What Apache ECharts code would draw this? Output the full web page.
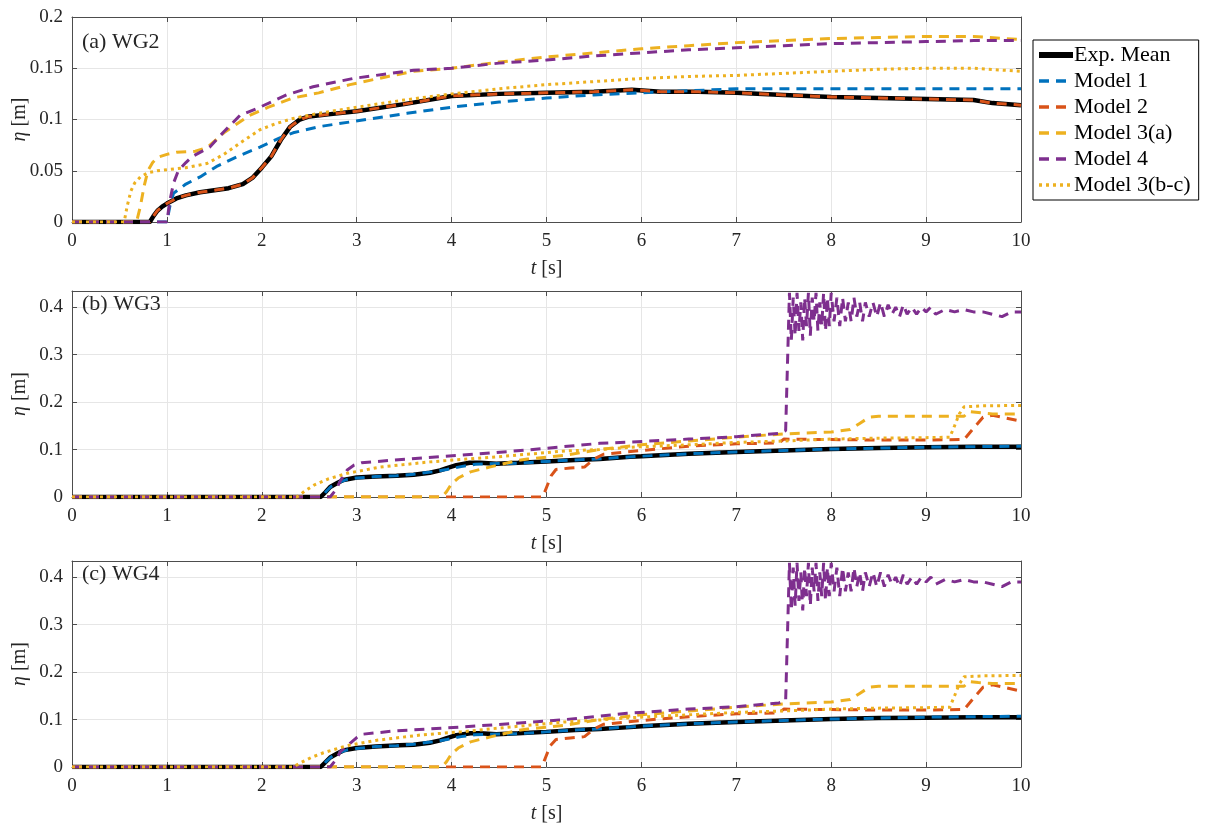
<!DOCTYPE html>
<html>
<head>
<meta charset="utf-8">
<script src="https://cdn.jsdelivr.net/npm/echarts@6/dist/echarts.min.js"></script>
<style>
  html, body { margin: 0; padding: 0; background: #fff; }
  #chart { width: 1205px; height: 825px; }
</style>
</head>
<body>
<div id="chart"></div>
<script>
// ---- data ----
const seriesNames = ['Exp. Mean', 'Model 1', 'Model 2', 'Model 3(a)', 'Model 4', 'Model 3(b-c)'];
const panelLabels = ['(a) WG2', '(b) WG3', '(c) WG4'];
const xTicks = [0, 1, 2, 3, 4, 5, 6, 7, 8, 9, 10];

// (a) WG2
const expA_t = [0, 0.82, 0.86, 0.9, 0.95, 1.0, 1.1, 1.2, 1.35, 1.5, 1.65, 1.8, 1.9, 2.0, 2.1, 2.2, 2.3, 2.4, 2.5, 2.7, 3.0, 3.5, 4.0, 4.5, 5.0, 5.5, 5.9, 6.2, 6.6, 7.0, 7.5, 8.0, 8.5, 9.0, 9.5, 9.7, 10];
const expA_v = [0, 0, 0.006, 0.011, 0.015, 0.018, 0.023, 0.026, 0.029, 0.031, 0.033, 0.037, 0.043, 0.053, 0.064, 0.080, 0.093, 0.100, 0.103, 0.105, 0.108, 0.115, 0.123, 0.125, 0.126, 0.127, 0.129, 0.127, 0.127, 0.126, 0.124, 0.122, 0.121, 0.120, 0.119, 0.116, 0.114];
const m1A_t = [0, 1.0, 1.03, 1.07, 1.2, 1.35, 1.52, 1.77, 1.98, 2.19, 2.33, 2.6, 2.96, 3.53, 4.0, 4.5, 5.0, 5.5, 6.0, 6.5, 7.0, 8.0, 9.0, 10];
const m1A_v = [0, 0, 0.015, 0.028, 0.037, 0.044, 0.054, 0.065, 0.073, 0.082, 0.087, 0.093, 0.098, 0.106, 0.112, 0.117, 0.121, 0.124, 0.126, 0.128, 0.130, 0.130, 0.130, 0.130];
const m2A_t = [0, 0.82, 0.86, 0.9, 0.95, 1.0, 1.1, 1.2, 1.35, 1.5, 1.65, 1.8, 1.9, 2.0, 2.1, 2.2, 2.3, 2.4, 2.5, 2.7, 3.0, 3.5, 4.0, 4.5, 5.0, 5.5, 5.9, 6.2, 6.6, 7.0, 7.5, 8.0, 8.5, 9.0, 9.5, 9.7, 10];
const m2A_v = [0, 0, 0.006, 0.011, 0.015, 0.018, 0.023, 0.026, 0.029, 0.031, 0.033, 0.037, 0.043, 0.053, 0.064, 0.080, 0.093, 0.100, 0.103, 0.105, 0.108, 0.115, 0.123, 0.125, 0.126, 0.127, 0.129, 0.127, 0.127, 0.126, 0.124, 0.122, 0.121, 0.120, 0.119, 0.116, 0.114];
const m3aA_t = [0, 0.68, 0.72, 0.76, 0.8, 0.85, 0.9, 1.0, 1.1, 1.3, 1.43, 1.6, 1.87, 2.07, 2.33, 2.6, 2.93, 3.33, 3.6, 4.0, 4.5, 5.0, 5.5, 6.0, 6.5, 7.0, 7.5, 8.0, 8.5, 9.0, 9.5, 10];
const m3aA_v = [0, 0, 0.015, 0.035, 0.05, 0.058, 0.063, 0.066, 0.068, 0.069, 0.073, 0.087, 0.104, 0.112, 0.121, 0.126, 0.134, 0.142, 0.147, 0.150, 0.156, 0.161, 0.165, 0.169, 0.172, 0.175, 0.177, 0.179, 0.180, 0.181, 0.181, 0.178];
const m4A_t = [0, 1.0, 1.03, 1.07, 1.12, 1.2, 1.27, 1.45, 1.6, 1.77, 1.98, 2.26, 2.54, 2.96, 3.6, 4.0, 4.5, 5.0, 5.5, 6.0, 6.5, 7.0, 7.5, 8.0, 8.5, 9.0, 9.5, 10];
const m4A_v = [0, 0, 0.02, 0.038, 0.05, 0.058, 0.064, 0.073, 0.088, 0.104, 0.112, 0.124, 0.132, 0.140, 0.148, 0.150, 0.155, 0.158, 0.162, 0.165, 0.168, 0.170, 0.172, 0.174, 0.175, 0.176, 0.177, 0.177];
const m3bcA_t = [0, 0.55, 0.58, 0.62, 0.66, 0.72, 0.8, 0.9, 1.0, 1.2, 1.42, 1.6, 1.77, 1.98, 2.15, 2.33, 2.6, 3.0, 3.5, 4.0, 4.5, 5.0, 5.5, 6.0, 6.5, 7.0, 7.5, 8.0, 8.5, 9.0, 9.5, 10];
const m3bcA_v = [0, 0, 0.015, 0.03, 0.038, 0.044, 0.048, 0.050, 0.051, 0.053, 0.057, 0.066, 0.077, 0.090, 0.096, 0.101, 0.106, 0.112, 0.119, 0.125, 0.130, 0.134, 0.137, 0.140, 0.142, 0.143, 0.145, 0.147, 0.149, 0.150, 0.150, 0.147];

// (b) WG3
const expB_t = [0, 2.62, 2.67, 2.72, 2.8, 2.86, 3.0, 3.2, 3.42, 3.6, 3.77, 3.88, 3.95, 4.05, 4.19, 4.3, 4.47, 4.7, 5.0, 5.3, 5.56, 5.88, 6.0, 6.5, 7.0, 7.5, 8.0, 8.5, 9.0, 9.5, 10];
const expB_v = [0, 0, 0.01, 0.021, 0.03, 0.036, 0.041, 0.043, 0.045, 0.047, 0.051, 0.056, 0.061, 0.067, 0.072, 0.072, 0.070, 0.072, 0.075, 0.078, 0.080, 0.085, 0.086, 0.091, 0.095, 0.098, 0.101, 0.103, 0.105, 0.106, 0.106];
const m1B_t = [0, 2.63, 2.68, 2.73, 2.8, 2.9, 3.0, 3.2, 3.42, 3.6, 3.8, 3.95, 4.1, 4.25, 4.4, 4.7, 5.0, 5.3, 5.6, 6.0, 6.5, 7.0, 7.5, 8.0, 8.5, 9.0, 9.5, 10];
const m1B_v = [0, 0, 0.012, 0.022, 0.03, 0.037, 0.040, 0.043, 0.045, 0.048, 0.053, 0.058, 0.064, 0.069, 0.070, 0.071, 0.075, 0.078, 0.081, 0.086, 0.091, 0.095, 0.098, 0.101, 0.103, 0.105, 0.106, 0.107];
const m2B_t = [0, 4.96, 5.0, 5.05, 5.1, 5.25, 5.4, 5.5, 5.6, 6.0, 6.5, 7.0, 7.45, 7.5, 8.0, 8.5, 9.0, 9.4, 9.5, 9.6, 9.7, 10];
const m2B_v = [0, 0, 0.02, 0.045, 0.058, 0.061, 0.063, 0.080, 0.090, 0.098, 0.107, 0.112, 0.114, 0.122, 0.121, 0.120, 0.120, 0.121, 0.145, 0.168, 0.172, 0.160];
const m3aB_t = [0, 3.9, 3.95, 4.0, 4.07, 4.2, 4.4, 4.7, 4.8, 5.2, 5.56, 6.0, 6.5, 7.0, 7.5, 8.0, 8.2, 8.3, 8.4, 8.5, 9.0, 9.4, 9.45, 9.55, 9.7, 10];
const m3aB_v = [0, 0, 0.012, 0.028, 0.04, 0.053, 0.063, 0.077, 0.080, 0.088, 0.100, 0.110, 0.118, 0.126, 0.133, 0.137, 0.142, 0.155, 0.168, 0.170, 0.170, 0.170, 0.180, 0.178, 0.175, 0.175];
const m4B_t = [0, 2.72, 2.78, 2.83, 2.9, 2.97, 3.05, 3.4, 4.1, 4.8, 5.56, 5.9, 6.5, 7.0, 7.45, 7.52,
  7.56, 7.58, 7.60, 7.62, 7.64, 7.66, 7.68, 7.70, 7.72, 7.74, 7.76, 7.78, 7.80, 7.82, 7.84, 7.86, 7.88, 7.90, 7.92, 7.94, 7.96, 7.98,
  8.00, 8.03, 8.06, 8.09, 8.12, 8.15, 8.18, 8.21, 8.24, 8.27, 8.30, 8.33, 8.36, 8.40, 8.44, 8.48, 8.52, 8.56, 8.60, 8.64, 8.68, 8.72,
  8.76, 8.80, 8.85, 8.90, 8.95, 9.00, 9.05, 9.10, 9.20, 9.30, 9.40, 9.50, 9.60, 9.70, 9.80, 9.90, 10];
const m4B_v = [0, 0, 0.015, 0.035, 0.057, 0.067, 0.072, 0.078, 0.088, 0.099, 0.113, 0.116, 0.122, 0.127, 0.134, 0.14,
  0.43, 0.33, 0.42, 0.34, 0.43, 0.35, 0.41, 0.33, 0.42, 0.36, 0.43, 0.34, 0.42, 0.37, 0.43, 0.35, 0.41, 0.36, 0.43, 0.35, 0.42, 0.36,
  0.43, 0.37, 0.42, 0.36, 0.42, 0.37, 0.41, 0.37, 0.42, 0.38, 0.41, 0.37, 0.41, 0.38, 0.41, 0.38, 0.41, 0.38, 0.405, 0.385, 0.40, 0.38,
  0.405, 0.385, 0.40, 0.385, 0.40, 0.39, 0.40, 0.385, 0.395, 0.39, 0.395, 0.39, 0.39, 0.385, 0.38, 0.39, 0.39];
const m3bcB_t = [0, 2.37, 2.45, 2.55, 2.7, 2.9, 3.25, 3.77, 4.1, 4.5, 5.2, 5.56, 5.9, 6.5, 7.0, 7.5, 8.0, 8.5, 9.0, 9.25, 9.3, 9.35, 9.4, 9.6, 10];
const m3bcB_v = [0, 0, 0.012, 0.025, 0.038, 0.05, 0.063, 0.074, 0.079, 0.085, 0.097, 0.100, 0.105, 0.110, 0.115, 0.118, 0.122, 0.124, 0.125, 0.126, 0.15, 0.175, 0.19, 0.192, 0.193];

// (c) WG4
const expC_t = [0, 2.62, 2.67, 2.72, 2.8, 2.86, 3.0, 3.2, 3.45, 3.6, 3.77, 3.88, 3.95, 4.05, 4.2, 4.3, 4.47, 4.7, 5.0, 5.3, 5.56, 5.88, 6.0, 6.5, 7.0, 7.5, 8.0, 8.5, 9.0, 9.5, 10];
const expC_v = [0, 0, 0.01, 0.02, 0.029, 0.035, 0.040, 0.043, 0.046, 0.047, 0.051, 0.056, 0.061, 0.067, 0.071, 0.071, 0.069, 0.071, 0.074, 0.078, 0.080, 0.084, 0.086, 0.091, 0.095, 0.098, 0.101, 0.103, 0.104, 0.105, 0.105];
const m1C_t = [0, 2.63, 2.68, 2.73, 2.8, 2.9, 3.0, 3.2, 3.42, 3.6, 3.8, 3.95, 4.1, 4.25, 4.4, 4.7, 5.0, 5.3, 5.6, 6.0, 6.5, 7.0, 7.5, 8.0, 8.5, 9.0, 9.5, 10];
const m1C_v = [0, 0, 0.012, 0.021, 0.029, 0.036, 0.039, 0.043, 0.045, 0.048, 0.053, 0.058, 0.064, 0.068, 0.069, 0.070, 0.074, 0.078, 0.081, 0.086, 0.091, 0.095, 0.098, 0.101, 0.103, 0.105, 0.106, 0.107];
const m2C_t = [0, 4.95, 4.99, 5.04, 5.1, 5.25, 5.4, 5.5, 5.6, 6.0, 6.5, 7.0, 7.45, 7.5, 8.0, 8.5, 9.0, 9.4, 9.5, 9.6, 9.7, 10];
const m2C_v = [0, 0, 0.02, 0.045, 0.058, 0.061, 0.064, 0.080, 0.090, 0.098, 0.106, 0.112, 0.114, 0.122, 0.121, 0.120, 0.120, 0.121, 0.145, 0.168, 0.173, 0.160];
const m3aC_t = [0, 3.9, 3.95, 4.0, 4.07, 4.2, 4.4, 4.7, 4.8, 5.2, 5.56, 6.0, 6.5, 7.0, 7.5, 8.0, 8.2, 8.3, 8.4, 8.5, 9.0, 9.4, 9.45, 9.55, 9.7, 10];
const m3aC_v = [0, 0, 0.012, 0.028, 0.04, 0.053, 0.063, 0.077, 0.080, 0.088, 0.100, 0.110, 0.118, 0.126, 0.133, 0.137, 0.142, 0.155, 0.168, 0.170, 0.170, 0.170, 0.180, 0.178, 0.176, 0.176];
const m4C_t = [0, 2.72, 2.78, 2.83, 2.93, 3.0, 3.06, 3.4, 4.1, 5.15, 5.85, 6.5, 7.0, 7.45, 7.52,
  7.56, 7.58, 7.60, 7.62, 7.64, 7.66, 7.68, 7.70, 7.72, 7.74, 7.76, 7.78, 7.80, 7.82, 7.84, 7.86, 7.88, 7.90, 7.92, 7.94, 7.96, 7.98,
  8.00, 8.03, 8.06, 8.09, 8.12, 8.15, 8.18, 8.21, 8.24, 8.27, 8.30, 8.33, 8.36, 8.40, 8.44, 8.48, 8.52, 8.56, 8.60, 8.64, 8.68, 8.72,
  8.76, 8.80, 8.85, 8.90, 8.95, 9.00, 9.05, 9.10, 9.20, 9.30, 9.40, 9.50, 9.60, 9.70, 9.80, 9.90, 10];
const m4C_v = [0, 0, 0.015, 0.033, 0.050, 0.062, 0.069, 0.076, 0.084, 0.099, 0.113, 0.122, 0.127, 0.135, 0.14,
  0.43, 0.33, 0.42, 0.34, 0.43, 0.35, 0.41, 0.33, 0.42, 0.36, 0.43, 0.34, 0.42, 0.37, 0.43, 0.35, 0.41, 0.36, 0.43, 0.35, 0.42, 0.36,
  0.43, 0.37, 0.42, 0.36, 0.42, 0.37, 0.41, 0.37, 0.42, 0.38, 0.41, 0.37, 0.41, 0.38, 0.41, 0.38, 0.41, 0.38, 0.405, 0.385, 0.40, 0.38,
  0.405, 0.385, 0.40, 0.385, 0.40, 0.39, 0.40, 0.385, 0.395, 0.39, 0.395, 0.39, 0.39, 0.385, 0.38, 0.39, 0.39];
const m3bcC_t = [0, 2.33, 2.42, 2.52, 2.65, 2.9, 3.2, 3.7, 4.1, 4.5, 5.2, 5.56, 5.9, 6.5, 7.0, 7.5, 8.0, 8.5, 9.0, 9.25, 9.3, 9.35, 9.4, 9.6, 10];
const m3bcC_v = [0, 0, 0.01, 0.02, 0.03, 0.045, 0.056, 0.068, 0.074, 0.082, 0.095, 0.099, 0.104, 0.110, 0.115, 0.118, 0.122, 0.124, 0.125, 0.126, 0.15, 0.175, 0.19, 0.192, 0.193];

const panels = [
  [[expA_t, expA_v], [m1A_t, m1A_v], [m2A_t, m2A_v], [m3aA_t, m3aA_v], [m4A_t, m4A_v], [m3bcA_t, m3bcA_v]],
  [[expB_t, expB_v], [m1B_t, m1B_v], [m2B_t, m2B_v], [m3aB_t, m3aB_v], [m4B_t, m4B_v], [m3bcB_t, m3bcB_v]],
  [[expC_t, expC_v], [m1C_t, m1C_v], [m2C_t, m2C_v], [m3aC_t, m3aC_v], [m4C_t, m4C_v], [m3bcC_t, m3bcC_v]]
];

// ---- styles ----
const FONT = 'Liberation Serif';
const lineStyles = {
  'Exp. Mean':    { color: '#000000', width: 4.5, type: 'solid' },
  'Model 1':      { color: '#0072BD', width: 3, type: [10, 7] },
  'Model 2':      { color: '#D95319', width: 3, type: [10, 7] },
  'Model 3(a)':   { color: '#EDB120', width: 3, type: [10, 7] },
  'Model 4':      { color: '#7E2F8E', width: 3, type: [10, 7] },
  'Model 3(b-c)': { color: '#EDB120', width: 3, type: [3, 4] }
};
const gridTops = [17, 291, 561];
const gridHeights = [205, 206, 206];
const yMax = [0.2, 0.434, 0.434];
const yInterval = [0.05, 0.1, 0.1];

const grids = [], xAxes = [], yAxes = [], series = [], titles = [];

for (let p = 0; p < 3; p++) {
  grids.push({ left: 72, top: gridTops[p], width: 949, height: gridHeights[p], outerBoundsMode: 'none', containLabel: false });
  const axisLine = { show: true, onZero: false, lineStyle: { color: '#4d4d4d', width: 1 } };
  // bottom x axis with labels
  xAxes.push({
    type: 'value', gridIndex: p, min: 0, max: 10, interval: 1, position: 'bottom',
    axisLine: axisLine,
    axisTick: { inside: true, length: 5, lineStyle: { color: '#4d4d4d' } },
    axisLabel: { color: '#262626', fontFamily: FONT, fontSize: 19, margin: 10 },
    splitLine: { show: true, lineStyle: { color: '#e6e6e6' } },
    name: '{i|t} [s]', nameLocation: 'middle', nameGap: 37, nameMoveOverlap: false,
    nameTextStyle: { color: '#262626', fontFamily: FONT, fontSize: 20,
      rich: { i: { fontStyle: 'italic', fontFamily: FONT, fontSize: 20, color: '#262626' } } }
  });
  // top x axis, ticks only
  xAxes.push({
    type: 'value', gridIndex: p, min: 0, max: 10, interval: 1, position: 'top',
    axisLine: axisLine,
    axisTick: { inside: true, length: 5, lineStyle: { color: '#4d4d4d' } },
    axisLabel: { show: false }, splitLine: { show: false }
  });
  yAxes.push({
    type: 'value', gridIndex: p, min: 0, max: yMax[p], interval: yInterval[p], position: 'left',
    axisLine: axisLine,
    axisTick: { inside: true, length: 5, lineStyle: { color: '#4d4d4d' } },
    axisLabel: { color: '#262626', fontFamily: FONT, fontSize: 19, margin: 9, showMaxLabel: p === 0 },
    splitLine: { show: true, lineStyle: { color: '#e6e6e6' } },
    name: '{i|η} [m]', nameLocation: 'middle', nameGap: 42, nameRotate: 90, nameMoveOverlap: false,
    nameTextStyle: { color: '#262626', fontFamily: FONT, fontSize: 20,
      rich: { i: { fontStyle: 'italic', fontFamily: FONT, fontSize: 20, color: '#262626' } } }
  });
  yAxes.push({
    type: 'value', gridIndex: p, min: 0, max: yMax[p], interval: yInterval[p], position: 'right',
    axisLine: axisLine,
    axisTick: { inside: true, length: 5, lineStyle: { color: '#4d4d4d' } },
    axisLabel: { show: false }, splitLine: { show: false }
  });

  titles.push({
    text: panelLabels[p], left: 82, top: gridTops[p] + (p === 0 ? 14 : 2), padding: 0,
    textStyle: { fontFamily: FONT, fontSize: 22, fontWeight: 'normal', color: '#262626' }
  });

  panels[p].forEach(function (pair, k) {
    const name = seriesNames[k];
    const t = pair[0], v = pair[1];
    series.push({
      type: 'line', name: name,
      xAxisIndex: p * 2, yAxisIndex: p * 2,
      data: t.map(function (x, i) { return [x, v[i]]; }),
      showSymbol: false, symbol: 'none',
      color: lineStyles[name].color,
      lineStyle: lineStyles[name],
      z: 2 + k,
      clip: true
    });
  });
}

const chart = echarts.init(document.getElementById('chart'));
chart.setOption({
  animation: false,
  backgroundColor: '#ffffff',
  title: titles,
  grid: grids,
  xAxis: xAxes,
  yAxis: yAxes,
  legend: {
    data: seriesNames.map(function (n) {
      return { name: n, lineStyle: { width: n === 'Exp. Mean' ? 6 : 3.5, type: lineStyles[n].type, color: lineStyles[n].color } };
    }),
    orient: 'vertical',
    left: 1033, top: 40,
    itemWidth: 34, itemHeight: 14, itemGap: 4,
    itemStyle: { opacity: 0 },
    borderColor: '#000', borderWidth: 1,
    padding: [4, 8, 4, 3],
    textStyle: { fontFamily: FONT, fontSize: 22, color: '#000', padding: [0, 0, 0, -4] }
  },
  series: series
});
</script>
</body>
</html>
